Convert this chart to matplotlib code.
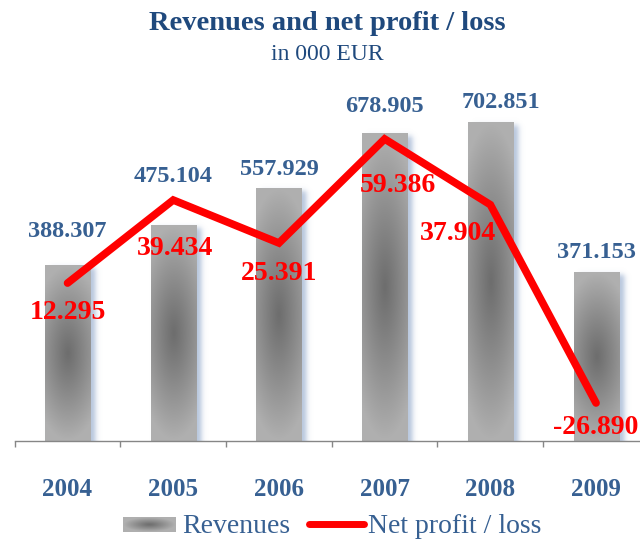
import numpy as np
import matplotlib
matplotlib.use("Agg")
import matplotlib.pyplot as plt
from matplotlib.lines import Line2D

# data
years = ["2004", "2005", "2006", "2007", "2008", "2009"]
revenues = [388.307, 475.104, 557.929, 678.905, 702.851, 371.153]
net_profit = [12.295, 39.434, 25.391, 59.386, 37.904, -26.890]

# label nudges in pixels (Excel-style hand placed labels)
rev_off = [(0, 28), (0, 44), (0, 13), (0, 22), (11, 15), (0, 15)]
np_off = [(0, -29), (2, -48), (0, -30), (13, -47), (-32, -29), (0, -25)]

serif = "Liberation Serif"
dark_blue = "#1f497d"
mid_blue = "#376092"
red = "#ff0000"

fig = plt.figure(figsize=(6.4, 5.4), dpi=100)
ax = fig.add_axes([14.7 / 640, 99 / 540, 634.2 / 640, 340 / 540])
ax2 = ax.twinx()

x = np.arange(len(years))
bw = 0.426
ymax = 751.0
px_x = 1 / 105.7         # data units per pixel (x)
px_y = ymax / 340.0      # data units per pixel (y)


def soft(t, w):
    return 0.5 * (1 + np.tanh(t / w))


def grad(nx, ny, kx):
    # radial grey gradient, dark in the middle
    u = np.linspace(-1, 1, nx)
    v = np.linspace(-1, 1, ny)
    U, V = np.meshgrid(u, v)
    r = np.clip(np.sqrt((kx * U) ** 2 + V ** 2), 0, 1) ** 1.1
    return dark + (light - dark) * r[..., None]


# bars: soft bluish shadow, then a radial grey gradient
dark = np.array([0.43, 0.43, 0.43])
light = np.array([0.69, 0.69, 0.69])
for xi, h in zip(x, revenues):
    x0, x1 = xi - bw / 2, xi + bw / 2
    # shadow
    off = 5 * px_x
    b = 3.0
    sx0, sx1 = x0 + off, x1 + off
    ex0, ex1 = sx0 - 4 * b * px_x, sx1 + 4 * b * px_x
    etop = h + 4 * b * px_y
    gx = np.linspace(ex0, ex1, 80)
    gy = np.linspace(0, etop, 120)
    GX, GY = np.meshgrid(gx, gy)
    a = soft((GX - sx0) / px_x, b) * soft((sx1 - GX) / px_x, b) * soft((h - 2 * px_y - GY) / px_y, b)
    shadow = np.zeros(GX.shape + (4,))
    shadow[..., 0] = 0.62
    shadow[..., 1] = 0.70
    shadow[..., 2] = 0.82
    shadow[..., 3] = 0.75 * a
    ax.imshow(shadow, extent=(ex0, ex1, 0, etop), origin="lower",
              aspect="auto", zorder=1, interpolation="bilinear")
    # bar gradient
    ax.imshow(grad(60, 200, 0.6), extent=(x0, x1, 0, h), origin="lower",
              aspect="auto", zorder=2, interpolation="bilinear")

for xi, h, (dx, dy) in zip(x, revenues, rev_off):
    ax.annotate(f"{h:.3f}", (xi, h), xytext=(dx, dy), textcoords="offset pixels",
                ha="center", va="baseline", fontsize=17.5, fontweight="bold",
                family=serif, color=mid_blue, zorder=3)

ax.set_xlim(-0.5, len(years) - 0.5)
ax.set_ylim(0, ymax)
ax.set_yticks([])
for s in ["left", "right", "top"]:
    ax.spines[s].set_visible(False)
ax.spines["bottom"].set_color("#868686")
ax.spines["bottom"].set_linewidth(1.0)
ax.set_xticks(x, years)
ax.set_xticks(np.arange(len(years) + 1) - 0.5, minor=True)
ax.tick_params(axis="x", which="major", length=0, pad=27)
ax.tick_params(axis="x", which="minor", length=4.5, width=1.0, color="#868686")
for t in ax.get_xticklabels():
    t.set_fontfamily(serif)
    t.set_fontweight("bold")
    t.set_fontsize(18)
    t.set_color(mid_blue)

# net profit line on secondary axis
ax2.plot(x, net_profit, color=red, lw=5.5, solid_capstyle="round",
         solid_joinstyle="miter", zorder=3)
ax2.set_ylim(-39.31, 71.80)
ax2.set_yticks([])
for s in ["left", "right", "top", "bottom"]:
    ax2.spines[s].set_visible(False)
for xi, p, (dx, dy) in zip(x, net_profit, np_off):
    ax2.annotate(f"{p:.3f}", (xi, p), xytext=(dx, dy), textcoords="offset pixels",
                 ha="center", va="center", fontsize=20, fontweight="bold",
                 family=serif, color=red, zorder=4)

# titles
fig.text(327 / 640, 1 - 30 / 540, "Revenues and net profit / loss", ha="center",
         va="baseline", fontsize=20.5, fontweight="bold", family=serif, color=dark_blue)
fig.text(327 / 640, 1 - 60 / 540, "in 000 EUR", ha="center", va="baseline",
         fontsize=17, family=serif, color=dark_blue)

# legend
sw = fig.add_axes([123 / 640, 1 - 532 / 540, 53 / 640, 15 / 540])
sw.imshow(grad(60, 20, 1.0), aspect="auto", extent=(0, 1, 0, 1))
sw.set_axis_off()
fig.text(182 / 640, 1 - 533 / 540, "Revenues", ha="left", va="baseline",
         fontsize=20, family=serif, color=mid_blue)
fig.add_artist(Line2D([309 / 640, 364 / 640], [1 - 524 / 540, 1 - 524 / 540],
                      transform=fig.transFigure, color=red, lw=5,
                      solid_capstyle="round"))
fig.text(368 / 640, 1 - 533 / 540, "Net profit / loss", ha="left", va="baseline",
         fontsize=20, family=serif, color=mid_blue)

fig.savefig("out.png", dpi=100)
